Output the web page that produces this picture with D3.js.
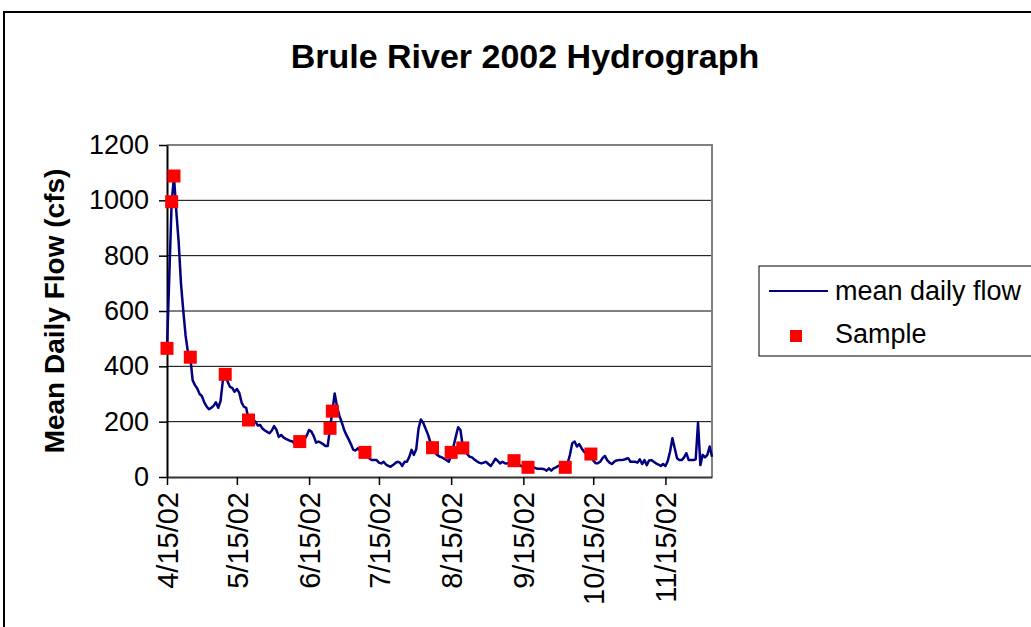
<!DOCTYPE html>
<html>
<head>
<meta charset="utf-8">
<script src="https://cdn.jsdelivr.net/npm/d3@7"></script>
<style>
body { margin: 0; background: #fff; }
svg text { font-family: "Liberation Sans", Arial, sans-serif; fill: #000; }
</style>
</head>
<body>
<svg id="chart" width="1031" height="627"></svg>
<script>
// mean daily flow, one value a day starting 4/15/02
var flowStart = "4/15/02";
var flowValues = [
    465,730,993,1085,960,850,700,600,510,450,
    433,350,332,320,300,292,270,255,245,250,
    257,270,250,275,350,372,345,326,322,308,
    318,305,270,254,250,207,206,206,200,186,
    188,175,168,163,158,168,184,170,145,152,
    143,138,134,130,128,116,122,128,122,135,
    150,170,164,148,124,128,124,119,112,112,
    176,238,302,254,222,198,172,152,136,118,
    98,96,104,94,90,89,75,66,61,61,
    61,52,49,55,45,40,37,43,50,55,
    52,40,55,55,72,98,80,100,175,208,
    196,175,155,128,106,90,80,74,71,66,
    61,55,80,110,146,180,170,110,90,82,
    73,71,63,57,52,49,52,55,47,40,
    52,66,58,49,55,50,49,52,56,59,
    50,45,40,38,35,35,35,35,33,30,
    30,30,28,23,31,23,31,35,40,43,
    40,35,49,80,122,128,110,119,104,92,
    85,80,83,60,50,50,55,68,76,61,
    52,47,55,60,61,61,62,65,68,55,
    55,55,52,64,47,61,43,60,61,55,
    49,45,40,47,40,58,92,140,104,68,
    61,61,71,86,61,61,61,64,196,43,
    80,71,80,110,73
];

var sampleDates = ["4/15/02","4/17/02","4/18/02","4/25/02","5/10/02","5/20/02","6/11/02",
    "6/24/02","6/25/02","7/9/02","8/7/02","8/15/02","8/20/02","9/11/02","9/17/02",
    "10/3/02","10/14/02"];
var sampleValues = [465,995,1088,433,371,206,128,176,238,89,106,89,105,59,35,35,83];

var xTickLabels = ["4/15/02","5/15/02","6/15/02","7/15/02","8/15/02","9/15/02","10/15/02","11/15/02"];
var yTicks = [0,200,400,600,800,1000,1200];
var axisEnd = "12/5/02";

var parseDate = d3.timeParse("%m/%d/%y");

var svg = d3.select("#chart"),
    margin = {top: 145, left: 167, right: 319, bottom: 150},
    width = +svg.attr("width") - margin.left - margin.right,
    height = +svg.attr("height") - margin.top - margin.bottom;

// outer chart frame (runs off the picture on the right and bottom)
svg.append("rect")
    .attr("x", 4)
    .attr("y", 12)
    .attr("width", 1100)
    .attr("height", 700)
    .attr("fill", "none")
    .attr("stroke", "#000")
    .attr("stroke-width", 2);

svg.append("text")
    .attr("x", 525)
    .attr("y", 68)
    .attr("text-anchor", "middle")
    .style("font-size", "34px")
    .style("font-weight", "bold")
    .text("Brule River 2002 Hydrograph");

var g = svg.append("g")
    .attr("transform", "translate(" + margin.left + "," + margin.top + ")");

var x = d3.scaleTime()
    .domain([parseDate(flowStart), parseDate(axisEnd)])
    .range([0, width]);

var y = d3.scaleLinear()
    .domain([0, 1200])
    .range([height, 0]);

// gridlines
g.append("g")
    .selectAll("line")
    .data(yTicks.slice(1, -1))
    .enter().append("line")
    .attr("x1", 0)
    .attr("x2", width)
    .attr("y1", function(d) { return y(d); })
    .attr("y2", function(d) { return y(d); })
    .attr("stroke", "#000")
    .attr("stroke-width", 1);

// plot frame top and right
g.append("path")
    .attr("d", "M0," + y(1200) + "H" + width + "V" + height)
    .attr("fill", "none")
    .attr("stroke", "#808080")
    .attr("stroke-width", 2);

var yAxis = g.append("g")
    .call(d3.axisLeft(y)
        .tickValues(yTicks)
        .tickFormat(d3.format("d"))
        .tickSize(8)
        .tickPadding(10)
        .tickSizeOuter(0));
yAxis.select(".domain").attr("stroke", "#000").attr("stroke-width", 2);
yAxis.selectAll(".tick line").attr("stroke", "#000").attr("stroke-width", 1.5);
yAxis.selectAll("text").style("font-size", "27px").attr("font-family", null);

var xAxis = g.append("g")
    .attr("transform", "translate(0," + height + ")")
    .call(d3.axisBottom(x)
        .tickValues(xTickLabels.map(parseDate))
        .tickFormat(d3.timeFormat("%-m/%d/%y"))
        .tickSize(8)
        .tickSizeOuter(0));
xAxis.select(".domain").attr("stroke", "#333").attr("stroke-width", 2);
xAxis.selectAll(".tick line").attr("stroke", "#000").attr("stroke-width", 1.5);
xAxis.selectAll("text")
    .attr("font-family", null)
    .style("font-size", "29px")
    .attr("text-anchor", "end")
    .attr("transform", "rotate(-90)")
    .attr("x", -15)
    .attr("y", 0)
    .attr("dy", "0.35em");

svg.append("text")
    .attr("transform", "translate(64," + (margin.top + height / 2) + ") rotate(-90)")
    .attr("text-anchor", "middle")
    .style("font-size", "28px")
    .style("font-weight", "bold")
    .text("Mean Daily Flow (cfs)");

var start = parseDate(flowStart);
var flow = flowValues.map(function(v, i) {
    return {date: d3.timeDay.offset(start, i), value: v};
});

var line = d3.line()
    .x(function(d) { return x(d.date); })
    .y(function(d) { return y(d.value); });

g.append("path")
    .datum(flow)
    .attr("d", line)
    .attr("fill", "none")
    .attr("stroke", "#000080")
    .attr("stroke-width", 2.5)
    .attr("stroke-linejoin", "round");

var samples = sampleDates.map(function(d, i) {
    return {date: parseDate(d), value: sampleValues[i]};
});

g.selectAll(".sample")
    .data(samples)
    .enter().append("rect")
    .attr("class", "sample")
    .attr("x", function(d) { return x(d.date) - 6.5; })
    .attr("y", function(d) { return y(d.value) - 6.5; })
    .attr("width", 13)
    .attr("height", 13)
    .attr("fill", "#ff0000");

// legend
var legend = svg.append("g").attr("transform", "translate(759,266)");
legend.append("rect")
    .attr("width", 300)
    .attr("height", 90)
    .attr("fill", "#fff")
    .attr("stroke", "#000")
    .attr("stroke-width", 1);
legend.append("line")
    .attr("x1", 10).attr("x2", 69)
    .attr("y1", 25).attr("y2", 25)
    .attr("stroke", "#000080")
    .attr("stroke-width", 2);
legend.append("text")
    .attr("x", 76).attr("y", 25).attr("dy", "0.35em")
    .style("font-size", "27px")
    .text("mean daily flow");
legend.append("rect")
    .attr("x", 31).attr("y", 64)
    .attr("width", 12).attr("height", 12)
    .attr("fill", "#ff0000");
legend.append("text")
    .attr("x", 76).attr("y", 68).attr("dy", "0.35em")
    .style("font-size", "27px")
    .text("Sample");
</script>
</body>
</html>
